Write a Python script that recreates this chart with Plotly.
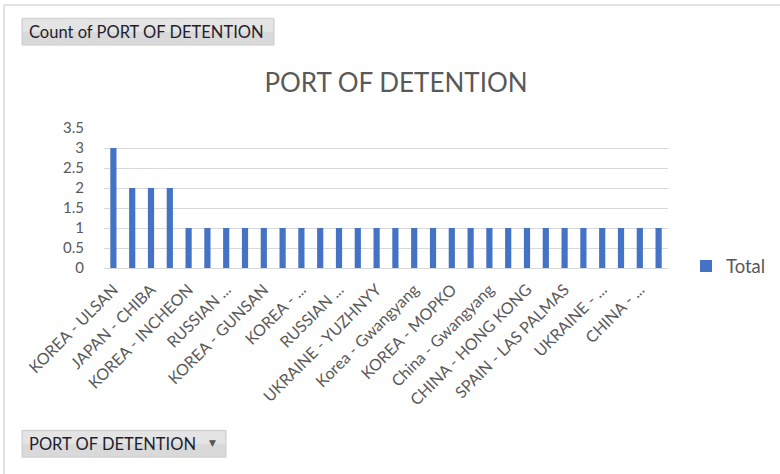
import plotly.graph_objects as go

# ---- data ----
categories = [
    "KOREA - ULSAN", "KOREA - BUSAN", "JAPAN - CHIBA", "CHINA - QINGDAO",
    "KOREA - INCHEON", "JAPAN - KASHIMA", "RUSSIAN FEDERATION - NAKHODKA", "KOREA - DONGHAE",
    "KOREA - GUNSAN", "CHINA - TIANJIN", "KOREA - PYEONGTAEK", "JAPAN - NAGOYA",
    "RUSSIAN FEDERATION - VLADIVOSTOK", "TURKEY - ISKENDERUN", "UKRAINE - YUZHNYY", "CHINA - DALIAN",
    "Korea - Gwangyang", "JAPAN - MIZUSHIMA", "KOREA - MOPKO", "CHINA - ZHOUSHAN",
    "China - Gwangyang", "AUSTRALIA - PORT HEDLAND", "CHINA - HONG KONG", "NETHERLANDS - ROTTERDAM",
    "SPAIN - LAS PALMAS", "BRAZIL - TUBARAO", "UKRAINE - ODESSA", "INDIA - PARADIP",
    "CHINA - CAOFEIDIAN", "SINGAPORE - SINGAPORE",
]
counts = [3, 2, 2, 2] + [1] * 26
tick_labels = [
    "KOREA - ULSAN", "JAPAN - CHIBA", "KOREA - INCHEON", "RUSSIAN ...",
    "KOREA - GUNSAN", "KOREA - ...", "RUSSIAN ...", "UKRAINE - YUZHNYY",
    "Korea - Gwangyang", "KOREA - MOPKO", "China - Gwangyang", "CHINA - HONG KONG",
    "SPAIN - LAS PALMAS", "UKRAINE - ...", "CHINA - ...",
]
y_ticks = [0, 0.5, 1, 1.5, 2, 2.5, 3, 3.5]
series_name = "Total"
chart_title = "PORT OF DETENTION"
value_button = "Count of PORT OF DETENTION"
field_button = "PORT OF DETENTION"

# ---- layout geometry (pixels) ----
W, H = 780, 474
L, R = 104, 668
T, B = 127.5, 268.5
FONT = "Lato"
GREY = "#595959"

def px(x):
    return (x - L) / (R - L)

def py(y):
    return (B - y) / (B - T)

fig = go.Figure()
fig.add_trace(go.Bar(
    x=categories, y=counts, name=series_name,
    marker=dict(color="#4472c4", line=dict(width=0)),
    width=0.33, showlegend=True,
))

shapes = []
# outer chart border (top and left)
shapes.append(dict(type="line", xref="paper", yref="paper",
                   x0=px(4), x1=px(W + 5), y0=py(3.5), y1=py(3.5),
                   line=dict(color="#d9d9d9", width=1.5)))
shapes.append(dict(type="line", xref="paper", yref="paper",
                   x0=px(4), x1=px(4), y0=py(3.5), y1=py(H + 5),
                   line=dict(color="#d9d9d9", width=1.5)))
# field buttons
for (x0, y0, x1, y1) in [(22, 17, 274, 44), (22, 432, 226, 459)]:
    shapes.append(dict(type="rect", xref="paper", yref="paper",
                       x0=px(x0), x1=px(x1), y0=py(y0), y1=py(y1),
                       fillcolor="#d9d9d9", line=dict(color="#cccccc", width=1),
                       layer="above"))
    shapes.append(dict(type="rect", xref="paper", yref="paper",
                       x0=px(x0 + 1), x1=px(x1 - 1), y0=py(y0 + 1), y1=py((y0 + y1) / 2),
                       fillcolor="#e4e4e4", line=dict(width=0),
                       layer="above"))

annotations = [
    dict(text=value_button, xref="paper", yref="paper", x=px(27), y=py(30.5),
         xanchor="left", yanchor="middle", showarrow=False,
         font=dict(family=FONT, size=16.5, color="#1f1f2f")),
    dict(text=field_button, xref="paper", yref="paper", x=px(27), y=py(445.5),
         xanchor="left", yanchor="middle", showarrow=False,
         font=dict(family=FONT, size=16.5, color="#1f1f2f")),
    dict(text="▼", xref="paper", yref="paper", x=px(212), y=py(445),
         xanchor="center", yanchor="middle", showarrow=False,
         font=dict(family="DejaVu Sans", size=9, color="#555555")),
]

fig.update_layout(
    width=W, height=H,
    margin=dict(l=L, r=W - R, t=T, b=H - B, pad=0, autoexpand=False),
    paper_bgcolor="white", plot_bgcolor="white",
    title=dict(text=chart_title, x=396 / W, xref="container", xanchor="center",
               y=1 - 83 / H, yref="container", yanchor="middle",
               font=dict(family=FONT, size=26, color=GREY)),
    font=dict(family=FONT, color=GREY),
    xaxis=dict(
        range=[-0.5, len(categories) - 0.5],
        tickmode="array",
        tickvals=categories[::2],
        ticktext=tick_labels,
        tickangle=-45,
        tickfont=dict(family=FONT, size=16, color=GREY),
        ticks="outside", ticklen=5, tickcolor="rgba(0,0,0,0)",
        showgrid=False, showline=True, linecolor="#d9d9d9", linewidth=1,
        zeroline=False, fixedrange=True, automargin=False,
    ),
    yaxis=dict(
        range=[0, 3.5],
        tickvals=y_ticks,
        ticktext=[f"{v:g}" for v in y_ticks],
        tickfont=dict(family=FONT, size=15, color=GREY),
        ticks="outside", ticklen=16, tickcolor="rgba(0,0,0,0)",
        showgrid=True, gridcolor="#d9d9d9", gridwidth=1,
        zeroline=False, showline=False, fixedrange=True, automargin=False,
    ),
    legend=dict(x=px(686), y=py(267), xanchor="left", yanchor="middle",
                font=dict(family=FONT, size=18.5, color=GREY),
                itemwidth=30, bgcolor="rgba(0,0,0,0)"),
    shapes=shapes,
    annotations=annotations,
    bargap=0.67,
)

fig.write_html("out.html", config={"displayModeBar": False},
               post_script="document.body.style.margin='0';document.body.style.overflow='hidden';")
